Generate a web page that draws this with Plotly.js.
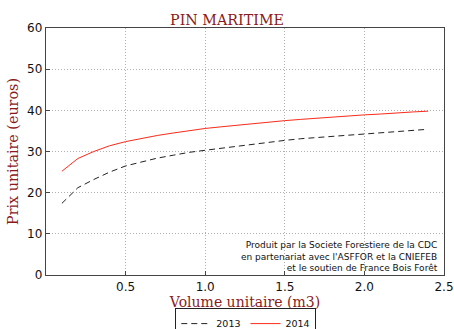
<!DOCTYPE html>
<html><head><meta charset="utf-8">
<script src="https://cdn.plot.ly/plotly-3.0.1.min.js"></script>
<style>body{margin:0;padding:0;}#chart{width:454px;height:329px;}</style>
</head><body><div id="chart"></div>
<script>
const volumes = [0.1,0.2,0.3,0.4,0.5,0.6,0.7,0.8,0.9,1.0,1.1,1.2,1.3,1.4,1.5,1.6,1.7,1.8,1.9,2.0,2.1,2.2,2.3,2.4];
const prix2013 = [17.4,21.2,23.2,25.0,26.5,27.5,28.4,29.1,29.8,30.3,30.8,31.3,31.8,32.3,32.7,33.1,33.4,33.7,34.0,34.3,34.6,34.9,35.2,35.4];
const prix2014 = [25.2,28.3,30.0,31.4,32.4,33.2,33.9,34.5,35.1,35.6,36.0,36.4,36.8,37.2,37.5,37.8,38.1,38.4,38.7,38.9,39.1,39.4,39.6,39.8];
const xTicks = [0.5,1.0,1.5,2.0,2.5];
const yTicks = [0,10,20,30,40,50,60];
const titleText = "PIN MARITIME";
const xTitle = "Volume unitaire (m3)";
const yTitle = "Prix unitaire (euros)";
const note = "Produit par la Societe Forestiere de la CDC<br>en partenariat avec l'ASFFOR et la CNIEFEB<br>et le soutien de France Bois Forêt";

const red = "#8b1a1a";
const traces = [
  {x: volumes, y: prix2013, name: "2013", mode: "lines", line: {color: "#222", width: 1, dash: "6px,4px"}},
  {x: volumes, y: prix2014, name: "2014", mode: "lines", line: {color: "#ff2a1a", width: 1}}
];
const axisCommon = {
  showline: true, mirror: true, linecolor: "#444", linewidth: 1.3,
  ticks: "inside", ticklen: 4, tickcolor: "#444",
  showgrid: true, gridcolor: "#b0b0b0", griddash: "1px,2px", gridwidth: 1,
  zeroline: false,
  tickfont: {family: "DejaVu Sans", size: 12, color: "#111"}
};
const layout = {
  width: 454, height: 329,
  margin: {l: 46, r: 10, t: 28, b: 54, autoexpand: false},
  paper_bgcolor: "white", plot_bgcolor: "white",
  title: {text: titleText, font: {family: "DejaVu Serif", size: 14.3, color: red}, x: 0.5, xanchor: "center", y: 0.94, yanchor: "middle"},
  xaxis: Object.assign({}, axisCommon, {range: [0, 2.5], tickvals: xTicks, tickformat: ".1f",
    title: {text: xTitle, font: {family: "DejaVu Serif", size: 14, color: red}, standoff: 0}}),
  yaxis: Object.assign({}, axisCommon, {range: [0, 60], tickvals: yTicks,
    title: {text: yTitle, font: {family: "DejaVu Serif", size: 14.3, color: red}, standoff: 5}}),
  showlegend: true,
  legend: {orientation: "h", x: 0.502, xanchor: "center", y: -0.134, yanchor: "top",
    bordercolor: "#222", borderwidth: 1, bgcolor: "white", itemwidth: 30,
    font: {family: "DejaVu Sans", size: 9.5, color: "#111"}},
  annotations: [{
    xref: "paper", yref: "paper", x: 0.99, y: 0.0, xanchor: "right", yanchor: "bottom",
    text: note, showarrow: false, align: "right",
    font: {family: "DejaVu Sans", size: 9, color: "#111"}
  }]
};
Plotly.newPlot("chart", traces, layout, {displayModeBar: false, staticPlot: true});
</script></body></html>
